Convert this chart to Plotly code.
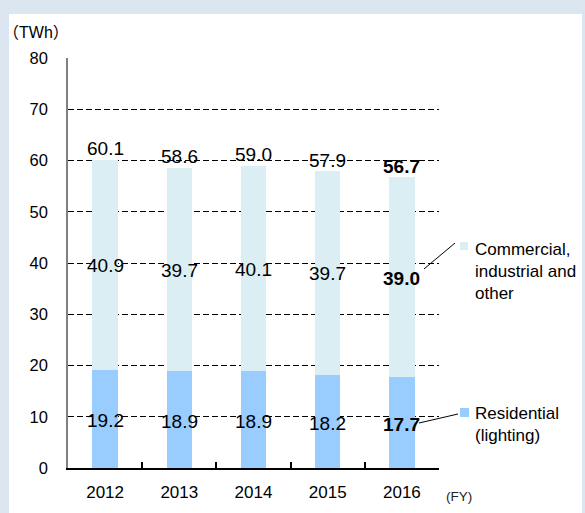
import plotly.graph_objects as go

years = ["2012", "2013", "2014", "2015", "2016"]
residential = [19.2, 18.9, 18.9, 18.2, 17.7]
commercial = [40.9, 39.7, 40.1, 39.7, 39.0]
totals = [60.1, 58.6, 59.0, 57.9, 56.7]
y_ticks = [0, 10, 20, 30, 40, 50, 60, 70, 80]
res_name = "Residential<br>(lighting)"
com_name = "Commercial,<br>industrial and<br>other"
unit_label = "（TWh）"
fy_label = "(FY)"

RES_COLOR = "#99ccff"
COM_COLOR = "#daeef3"
BG = "#dce6f1"
FONT = "Liberation Sans, Arial, Noto Sans CJK JP, sans-serif"

# plot-area pixel geometry
L, R, T, B = 68, 439, 58, 468
W, H = 585, 513


def px(x):
    return (x - L) / (R - L)


def py(y):
    return (B - y) / (B - T)


fig = go.Figure()
fig.add_trace(go.Bar(x=years, y=residential, marker_color=RES_COLOR,
                     marker_line_width=0, name="Residential", hoverinfo="skip"))
fig.add_trace(go.Bar(x=years, y=commercial, marker_color=COM_COLOR,
                     marker_line_width=0, name="Commercial", hoverinfo="skip"))

annotations = []
last = len(years) - 1
for i, yr in enumerate(years):
    def fmt(v):
        s = f"{v:.1f}"
        return f"<b>{s}</b>" if i == last else s
    annotations.append(dict(x=i, y=residential[i] / 2, xref="x", yref="y",
                            text=fmt(residential[i]), showarrow=False,
                            yshift=-2, font=dict(size=19, color="black", family=FONT)))
    annotations.append(dict(x=i, y=residential[i] + commercial[i] / 2, xref="x", yref="y",
                            text=fmt(commercial[i]), showarrow=False,
                            yshift=-1, font=dict(size=19, color="black", family=FONT)))
    annotations.append(dict(x=i, y=totals[i], xref="x", yref="y",
                            text=fmt(totals[i]), showarrow=False,
                            yshift=11, font=dict(size=19, color="black", family=FONT)))

# legend texts
annotations.append(dict(x=px(473), y=py(271), xref="paper", yref="paper",
                        xanchor="left", yanchor="middle", align="left",
                        text=com_name, showarrow=False,
                        font=dict(size=17, color="black", family=FONT)))
annotations.append(dict(x=px(473), y=py(424), xref="paper", yref="paper",
                        xanchor="left", yanchor="middle", align="left",
                        text=res_name, showarrow=False,
                        font=dict(size=17, color="black", family=FONT)))
# unit labels
annotations.append(dict(x=px(1), y=py(33), xref="paper", yref="paper",
                        xanchor="left", yanchor="middle", text=unit_label,
                        showarrow=False, font=dict(size=16, color="black", family=FONT)))
annotations.append(dict(x=px(459), y=py(496), xref="paper", yref="paper",
                        xanchor="center", yanchor="middle", text=fy_label,
                        showarrow=False, font=dict(size=13.5, color="#222222", family=FONT)))

shapes = [
    # white panel
    dict(type="rect", xref="paper", yref="paper", x0=px(9), x1=px(582),
         y0=py(520), y1=py(14), fillcolor="white", line_width=0, layer="below"),
    # legend squares
    dict(type="rect", xref="paper", yref="paper", x0=px(460), x1=px(468),
         y0=py(250), y1=py(242), fillcolor=COM_COLOR, line_width=0),
    dict(type="rect", xref="paper", yref="paper", x0=px(460), x1=px(469),
         y0=py(417), y1=py(408), fillcolor=RES_COLOR, line_width=0),
    # leader lines
    dict(type="line", xref="paper", yref="paper", x0=px(424), y0=py(269),
         x1=px(455), y1=py(243), line=dict(color="black", width=1)),
    dict(type="line", xref="paper", yref="paper", x0=px(419), y0=py(423),
         x1=px(458), y1=py(414), line=dict(color="black", width=1)),
]

fig.update_layout(
    barmode="stack",
    bargap=0.66,
    width=W, height=H,
    margin=dict(l=L, r=W - R, t=T, b=H - B, pad=0, autoexpand=False),
    paper_bgcolor=BG,
    plot_bgcolor="rgba(0,0,0,0)",
    showlegend=False,
    annotations=annotations,
    shapes=shapes,
    font=dict(family=FONT, color="black"),
)
fig.update_xaxes(
    type="category", range=[-0.5, len(years) - 0.5], automargin=False,
    showline=True, linecolor="black", linewidth=2,
    ticks="inside", tickson="boundaries", ticklen=6, tickwidth=1.5, tickcolor="black",
    tickfont=dict(size=17, color="black", family=FONT), tickangle=0,
    ticklabelstandoff=8,
    showgrid=False, zeroline=False,
)
fig.update_yaxes(
    range=[0, 80], tickvals=y_ticks, automargin=False,
    showline=True, linecolor="#808080", linewidth=1.5,
    showgrid=True, gridcolor="black", gridwidth=1, griddash="6px,3px",
    zeroline=False, ticks="",
    ticklabelstandoff=15,
    tickfont=dict(size=16.5, color="black", family=FONT),
)

fig.write_html(
    "out.html",
    config={"displayModeBar": False},
    post_script="document.body.style.margin='0';document.body.style.overflow='hidden';"
                "document.body.style.background='" + BG + "';",
)
